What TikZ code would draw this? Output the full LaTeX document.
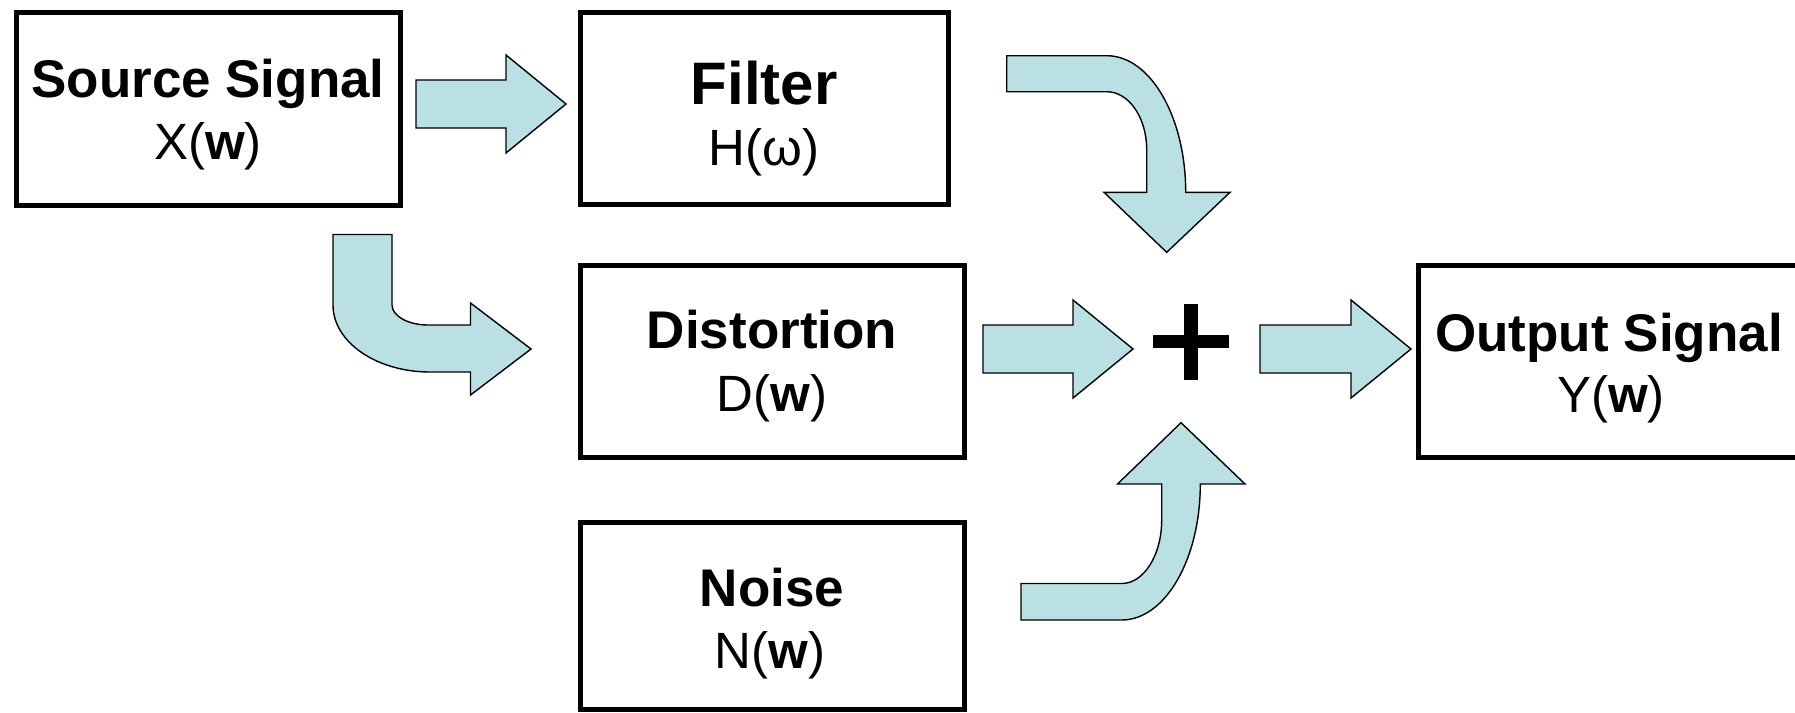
\documentclass[tikz,border=0pt]{standalone}
\usepackage{fontspec}
\setmainfont{Liberation Sans}
\usetikzlibrary{calc}

\definecolor{arrowfill}{RGB}{186,224,228}

% straight block arrow from a tail centre to a tip
\newcommand\straightblock[2]{%
  \draw[blockarrow] ($(#1)+(0,-24)$) -- ($(#2)+(-60,-24)$) -- ($(#2)+(-60,-49)$)
    -- (#2) -- ($(#2)+(-60,49)$) -- ($(#2)+(-60,24)$) -- ($(#1)+(0,24)$) -- cycle;}

\tikzset{
  sysbox/.style={draw=black, line width=5pt, rectangle, inner sep=0pt},
  blockarrow/.style={fill=arrowfill, draw=black, line width=1.4pt, line join=miter},
  title/.style={anchor=base, inner sep=0pt, font=\bfseries\fontsize{53}{60}\selectfont},
  func/.style={anchor=base, inner sep=0pt, font=\fontsize{51}{60}\selectfont},
}

\begin{document}
\begin{tikzpicture}[x=1pt, y=-1pt]
\useasboundingbox (0,0) rectangle (1795,712);
\clip (0,0) rectangle (1795,712);

% system blocks
\node[sysbox, minimum width=384pt,   minimum height=193pt]   (src)  at (208,109)    {};
\node[sysbox, minimum width=367.5pt, minimum height=192pt]   (filt) at (764.25,108.5) {};
\node[sysbox, minimum width=383.5pt, minimum height=192pt]   (dist) at (772.25,361.5) {};
\node[sysbox, minimum width=383.5pt, minimum height=187pt]   (noise) at (772.25,615.5) {};
\node[sysbox, minimum width=379.7pt, minimum height=191.7pt] (out)  at (1608.15,361.65) {};

% block labels
\node[title] (srcT)  at (208,97.5)   {Source Signal};
\node[func]  (srcF)  at (208,159)    {X(\textbf{w})};
\node[title, font=\bfseries\fontsize{60}{68}\selectfont] (filtT) at (764,104.5) {Filter};
\node[func]  (filtF) at (764,165)    {H(ω)};
\node[title] (distT) at (772,348.5)  {Distortion};
\node[func]  (distF) at (772,411.5)  {D(\textbf{w})};
\node[title] (noiseT) at (772,606)   {Noise};
\node[func]  (noiseF) at (770,668)   {N(\textbf{w})};
\node[title] (outT)  at (1609,351)   {Output Signal};
\node[func]  (outF)  at (1611,412)   {Y(\textbf{w})};

% summing junction
\node[inner sep=0pt, minimum width=75pt, minimum height=75.5pt] (sum) at (1190.8,341.7) {};
\fill[black] ([xshift=-6.8pt]sum.north) rectangle ([xshift=6.8pt]sum.south);
\fill[black] ([yshift=6.7pt]sum.west) rectangle ([yshift=-6.7pt]sum.east);

% straight block arrows
\coordinate (a1tail) at (416,104);
\coordinate (a1tip)  at (566,104);
\coordinate (a2tail) at (983,349);
\coordinate (a2tip)  at (1133,349);
\coordinate (a3tail) at (1260,349);
\coordinate (a3tip)  at (1411,349);
\straightblock{a1tail}{a1tip}
\straightblock{a2tail}{a2tip}
\straightblock{a3tail}{a3tip}

% source -> distortion (bent down then right)
\draw[blockarrow] (333,234.5) -- (392,234.5) -- (392,305)
  .. controls (392,316) and (408.1,325) .. (428,325) -- (470.5,325) -- (470.5,303)
  -- (531,349) -- (470.5,395) -- (470.5,372) -- (430,372)
  .. controls (376.4,372) and (333,342) .. (333,305) -- cycle;

% filter -> sum (bent right then down)
\draw[blockarrow] (1006.7,55.7) -- (1106.7,55.7)
  .. controls (1150.3,55.7) and (1185.7,116.9) .. (1185.7,192.3)
  -- (1230,192.3) -- (1166.7,252.3) -- (1104,192.3) -- (1146.7,192.3) -- (1146.7,149.7)
  .. controls (1146.7,117.7) and (1128.8,91.7) .. (1106.7,91.7) -- (1006.7,91.7) -- cycle;

% noise -> sum (bent right then up)
\draw[blockarrow] (1021,583.5) -- (1121.7,583.5)
  .. controls (1143.8,583.5) and (1161.7,555.1) .. (1161.7,520) -- (1161.7,484)
  -- (1117.5,484) -- (1181,422.7) -- (1245,484) -- (1200.3,484)
  .. controls (1200.3,559.1) and (1165.1,620) .. (1121.7,620) -- (1021,620) -- cycle;
\end{tikzpicture}
\end{document}
